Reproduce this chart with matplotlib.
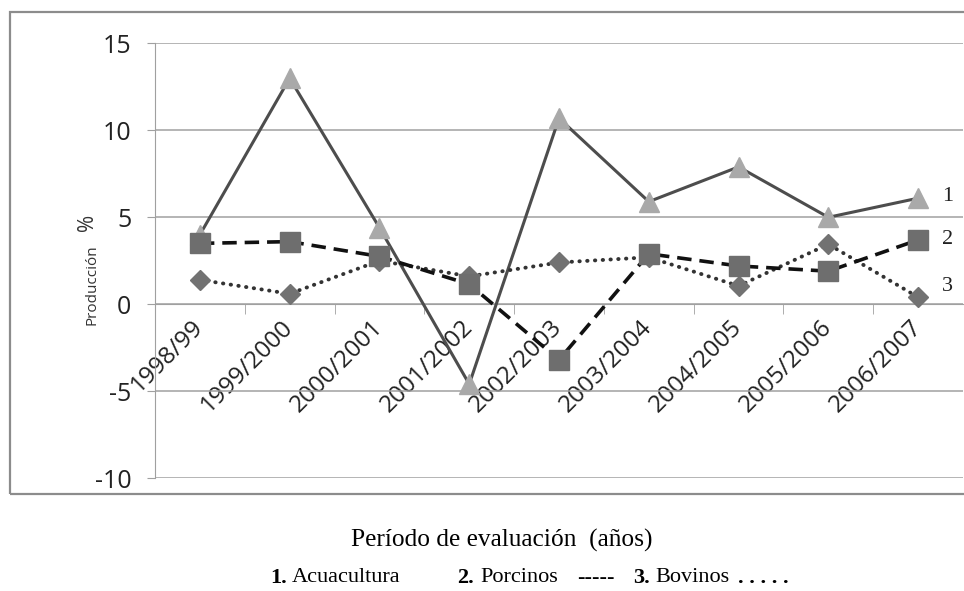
import matplotlib
matplotlib.use("Agg")
import matplotlib.pyplot as plt
from matplotlib.patches import Rectangle

periodos = ["1998/99", "1999/2000", "2000/2001", "2001/2002", "2002/2003",
            "2003/2004", "2004/2005", "2005/2006", "2006/2007"]
acuacultura = [4.0, 13.0, 4.4, -4.6, 10.7, 5.9, 7.9, 5.0, 6.1]
porcinos = [3.5, 3.6, 2.75, 1.15, -3.2, 2.9, 2.2, 1.9, 3.7]
bovinos = [1.4, 0.6, 2.5, 1.6, 2.4, 2.7, 1.05, 3.45, 0.4]
y_ticks = [-10, -5, 0, 5, 10, 15]

plt.rcParams['font.family'] = ['Open Sans', 'DejaVu Sans']

fig = plt.figure(figsize=(9.64, 5.91), dpi=100)
ax = fig.add_axes([0.1608, 0.1912, 0.8382, 0.7352])

x = list(range(len(periodos)))

# series (later ones on top, as in the original)
ax.plot(x, acuacultura, color='#4d4d4d', lw=2.2, marker='^', ms=15,
        mfc='#a9a9a9', mec='#a9a9a9', zorder=3)
ax.plot(x, bovinos, color='#333333', lw=2.8, ls=(0, (0.1, 1.9)),
        dash_capstyle='round', marker='D', ms=10,
        mfc='#727272', mec='#727272', zorder=4)
ax.plot(x, porcinos, color='#111111', lw=2.6, ls=(0, (4, 2.2)),
        marker='s', ms=14, mfc='#6e6e6e', mec='#6e6e6e', zorder=5)

ax.set_xlim(-0.5, len(periodos) - 0.5)
ax.set_ylim(-10, 15)
ax.set_yticks(y_ticks)
ax.set_yticklabels([str(v) for v in y_ticks], fontsize=18, color='#222222')
ax.grid(axis='y', color='#a0a0a0', lw=1.1)
ax.set_axisbelow(True)

for s in ['top', 'right']:
    ax.spines[s].set_visible(False)
ax.spines['left'].set_color('#a0a0a0')
ax.spines['bottom'].set_position(('data', 0))
ax.spines['bottom'].set_color('#a0a0a0')
ax.tick_params(axis='y', length=6, color='#a0a0a0', pad=11)

ax.set_xticks(x)
ax.set_xticklabels(periodos, rotation=45, ha='right', va='center',
                   rotation_mode='anchor', fontsize=17.5, color='#222222')
ax.tick_params(axis='x', which='major', length=0, pad=14)
ax.set_xticks([i + 0.5 for i in x[:-1]], minor=True)
ax.tick_params(axis='x', which='minor', length=7, color='#a0a0a0')

# y axis label in two parts
fig.text(0.091, 0.624, '%', rotation=90, fontsize=15, ha='center', va='center',
         color='#333333')
fig.text(0.095, 0.518, 'Producción', rotation=90, fontsize=11, ha='center',
         va='center', color='#333333')

# series numbers at right end
for lab, val in zip(['1', '2', '3'], [6.2, 3.7, 1.0]):
    ax.text(8.27, val, lab, fontsize=16, family='Liberation Serif',
            ha='left', va='center', color='#222222')

# frame around the chart
fig.patches.append(Rectangle((0.0104, 0.1641), 1.02, 0.8156,
                             transform=fig.transFigure, fill=False,
                             ec='#8c8c8c', lw=1.6, clip_on=False))

serif = 'Liberation Serif'
fig.text(0.521, 0.0863, 'Período de evaluación  (años)', fontsize=18.3,
         family=serif, ha='center', va='center')

# second caption line
partes = [(270, '1.', 'bold'), (292, 'Acuacultura', 'normal'),
          (457, '2.', 'bold'), (480, 'Porcinos', 'normal'),
          (577, '-----', 'bold'), (633, '3.', 'bold'),
          (655, 'Bovinos', 'normal'), (738, '. . . . .', 'bold')]
for px, txt, w in partes:
    fig.text(px / 964, 0.022, txt, fontsize=16, family=serif, weight=w,
             ha='left', va='center')

fig.savefig('out.png', dpi=100)
